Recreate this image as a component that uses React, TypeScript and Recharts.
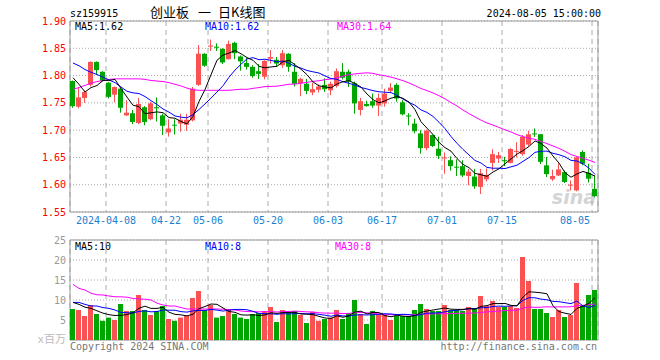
import React from 'react';
import { ComposedChart, Bar, Line, XAxis, YAxis, CartesianGrid, ReferenceArea } from 'recharts';

const opens = [1.790,1.743,1.759,1.783,1.825,1.807,1.787,1.765,1.776,1.727,
  1.731,1.713,1.742,1.720,1.742,1.727,1.696,1.710,1.712,1.710,
  1.718,1.783,1.840,1.853,1.853,1.849,1.830,1.860,1.835,1.823,
  1.816,1.808,1.798,1.831,1.829,1.819,1.840,1.807,1.786,1.785,
  1.769,1.774,1.783,1.773,1.781,1.807,1.807,1.786,1.737,1.748,
  1.753,1.745,1.749,1.772,1.783,1.751,1.727,1.712,1.694,1.667,
  1.691,1.666,1.649,1.645,1.633,1.634,1.616,1.615,1.596,1.610,
  1.640,1.648,1.645,1.640,1.661,1.656,1.6735,1.694,1.6925,1.6355,
  1.610,1.617,1.623,1.599,1.5895,1.660,1.622,1.5925];
const highs = [1.791,1.779,1.773,1.826,1.826,1.808,1.788,1.780,1.777,1.755,
  1.737,1.759,1.744,1.752,1.760,1.730,1.720,1.720,1.730,1.730,
  1.779,1.856,1.841,1.866,1.859,1.850,1.864,1.862,1.837,1.833,
  1.819,1.821,1.828,1.847,1.834,1.847,1.841,1.823,1.796,1.794,
  1.787,1.784,1.795,1.789,1.813,1.823,1.811,1.789,1.759,1.754,
  1.767,1.767,1.776,1.786,1.786,1.755,1.731,1.721,1.700,1.701,
  1.692,1.688,1.659,1.652,1.6465,1.645,1.629,1.629,1.629,1.630,
  1.665,1.660,1.651,1.667,1.678,1.691,1.699,1.703,1.693,1.651,
  1.6275,1.639,1.626,1.608,1.651,1.663,1.6385,1.617];
const lows = [1.741,1.740,1.750,1.780,1.801,1.789,1.758,1.751,1.732,1.726,
  1.711,1.711,1.709,1.718,1.716,1.691,1.688,1.692,1.697,1.699,
  1.716,1.781,1.816,1.845,1.845,1.821,1.829,1.830,1.809,1.811,
  1.796,1.794,1.793,1.822,1.816,1.814,1.807,1.780,1.762,1.766,
  1.764,1.769,1.770,1.764,1.778,1.793,1.779,1.730,1.727,1.743,
  1.741,1.726,1.743,1.770,1.752,1.727,1.709,1.694,1.657,1.663,
  1.669,1.647,1.620,1.626,1.616,1.614,1.599,1.5925,1.583,1.606,
  1.626,1.640,1.634,1.639,1.650,1.653,1.671,1.6876,1.638,1.614,
  1.607,1.616,1.603,1.5895,1.588,1.6355,1.604,1.577];
const closes = [1.744,1.760,1.770,1.825,1.810,1.790,1.761,1.779,1.741,1.732,
  1.715,1.748,1.715,1.749,1.740,1.708,1.703,1.709,1.719,1.719,
  1.776,1.840,1.818,1.855,1.851,1.824,1.858,1.841,1.826,1.816,
  1.799,1.803,1.827,1.834,1.822,1.841,1.816,1.785,1.794,1.772,
  1.775,1.780,1.775,1.785,1.808,1.796,1.789,1.749,1.753,1.744,
  1.745,1.759,1.767,1.778,1.758,1.729,1.725,1.698,1.667,1.699,
  1.671,1.653,1.650,1.634,1.632,1.617,1.624,1.597,1.621,1.618,
  1.656,1.654,1.643,1.6655,1.662,1.688,1.6925,1.693,1.642,1.6195,
  1.616,1.628,1.605,1.600,1.650,1.6385,1.611,1.579];
const volumes = [7.75,7.5,6.0,8.75,6.5,4.8,5.6,5.0,9.0,7.25,
  7.25,11.25,7.5,6.25,7.25,8.5,5.25,4.8,5.6,6.0,
  10.5,12.25,7.5,8.75,5.6,6.0,7.75,6.5,5.6,5.25,
  6.5,6.75,7.25,8.25,4.5,7.5,7.0,7.25,6.25,4.25,
  7.0,4.8,5.25,5.6,7.5,5.25,6.75,10.0,6.5,4.0,
  7.25,6.5,6.25,5.0,6.0,6.0,6.0,7.5,9.0,7.75,
  7.25,7.25,8.75,7.5,7.5,7.25,8.25,8.0,11.0,8.5,
  9.75,8.25,8.25,8.5,8.0,20.75,14.75,7.75,7.75,6.75,
  5.75,7.5,5.75,6.25,14.25,8.5,11.25,12.5];

const ma5Head = [1.796,1.784,1.770,1.778];
const ma10Head = [1.823,1.818,1.811,1.806,1.802,1.797,1.792,1.787,1.779];
const ma30Head = [1.775,1.778,1.782,1.786,1.789,1.791,1.793,1.794,1.794,1.794,
  1.794,1.794,1.793,1.791,1.790,1.789,1.787,1.784,1.781,1.777,
  1.774,1.773,1.773,1.773,1.773,1.773,1.773,1.774,1.775];
const vma5Head = [9.4,8.9,8.2,7.9];
const vma10Head = [9.4,9.4,8.9,8.5,8.5,8.1,7.9,7.5,6.9];
const vma30Head = [13.9,12.9,12.5,11.7,11.3,11.25,11.0,10.8,10.8,10.7,
  10.4,10.25,10.2,10.0,9.2,8.75,8.5,8.5,8.1,7.75,
  7.75,7.75,7.75,7.75,7.75,7.7,7.6,7.5,7.25];

const tickIdx = [6,16,23,33,43,52,62,72,87];
const tickLabels = ['2024-04-08','04-22','05-06','05-20','06-03','06-17','07-01','07-15','08-05'];
const priceTicks = [1.55,1.60,1.65,1.70,1.75,1.80,1.85,1.90];
const volTicks = [5,10,15,20,25];

const RED = '#fa5252';
const GREEN = '#00a600';
const MONO = "'DejaVu Sans Mono', 'Liberation Mono', monospace";
const CJK = "'Noto Sans CJK SC', sans-serif";

function movingAvg(src: number[], n: number, head: number[]) {
  return src.map((_, i) => {
    if (i < head.length) return head[i];
    let s = 0;
    for (let k = i - n + 1; k <= i; k++) s += src[k];
    return s / n;
  });
}

const ma5 = movingAvg(closes, 5, ma5Head);
const ma10 = movingAvg(closes, 10, ma10Head);
const ma30 = movingAvg(closes, 30, ma30Head);
const vma5 = movingAvg(volumes, 5, vma5Head);
const vma10 = movingAvg(volumes, 10, vma10Head);
const vma30 = movingAvg(volumes, 30, vma30Head);

const rows = opens.map((o, i) => ({
  x: i,
  open: o,
  high: highs[i],
  low: lows[i],
  close: closes[i],
  vol: volumes[i],
  ma5: ma5[i],
  ma10: ma10[i],
  ma30: ma30[i],
  vma5: vma5[i],
  vma10: vma10[i],
  vma30: vma30[i],
}));

const n = rows.length;
const xDomain: [number, number] = [-0.5, n - 0.5];
const xTicks = tickIdx.map((i) => i - 0.5);

const DateTick = (p: any) => {
  const { x, y, payload } = p;
  const k = xTicks.indexOf(payload.value);
  if (k < 0) return null;
  const last = k === xTicks.length - 1;
  return (
    <text
      x={last ? x - 2 : x}
      y={y + 5}
      dy="0.71em"
      textAnchor={last ? 'end' : 'middle'}
      fill="#1a80d0"
      fontSize={10}
      fontFamily={MONO}
    >
      {tickLabels[k]}
    </text>
  );
};

const Candle = (p: any) => {
  const { x, y, width, height, payload } = p;
  if (x == null || y == null) return null;
  const { open, close, high, low } = payload;
  const top = Math.min(y, y + height);
  const h = Math.abs(height);
  const span = high - low;
  const toY = (v: number) => (span > 0 ? top + ((high - v) / span) * h : top);
  const color = close >= open ? RED : GREEN;
  const left = Math.floor(x + width / 2 - 2.5);
  const cx = left + 2.5;
  const bTop = toY(Math.max(open, close));
  const bBot = toY(Math.min(open, close));
  const bh = Math.max(1, bBot - bTop);
  return (
    <g>
      <line x1={cx} x2={cx} y1={top} y2={top + h} stroke={color} strokeWidth={1} />
      <rect x={left} y={bTop} width={5} height={bh} fill={color} />
    </g>
  );
};

const VolBar = (p: any) => {
  const { x, y, width, height, payload } = p;
  if (x == null || y == null) return null;
  const color = payload.close >= payload.open ? RED : GREEN;
  const left = Math.floor(x + width / 2 - 2.5);
  return <rect x={left} y={Math.min(y, y + height)} width={5} height={Math.abs(height)} fill={color} />;
};

export default function App() {
  return (
    <div style={{ position: 'absolute', left: 0, top: 0, width: 660, height: 360, background: '#fff' }}>
      <svg width={660} height={360} style={{ position: 'absolute', left: 0, top: 0 }}>
        <text x={70} y={17} fontFamily={MONO} fontSize={10} fill="#000">sz159915</text>
        <text x={150} y={17} fontFamily={CJK} fontSize={13} fill="#000">创业板</text>
        <text x={198} y={17} fontFamily={CJK} fontSize={13} fill="#000">一</text>
        <text x={218} y={17} fontFamily={CJK} fontSize={13} fill="#000">日K线图</text>
        <text x={601} y={17} fontFamily={MONO} fontSize={10} fill="#000" textAnchor="end">2024-08-05 15:00:00</text>
        <text x={75} y={30} fontFamily={MONO} fontSize={10} fill="#000">MA5:1.62</text>
        <text x={205} y={30} fontFamily={MONO} fontSize={10} fill="#0000ff">MA10:1.62</text>
        <text x={337} y={30} fontFamily={MONO} fontSize={10} fill="#ff00ff">MA30:1.64</text>
        <text x={596} y={204} fontFamily="'DejaVu Sans', sans-serif" fontSize={19} fontWeight="bold" fontStyle="italic" fill="#d4d4d4" textAnchor="end">sina</text>
        <text x={75} y={250} fontFamily={MONO} fontSize={10} fill="#000">MA5:10</text>
        <text x={205} y={250} fontFamily={MONO} fontSize={10} fill="#0000ff">MA10:8</text>
        <text x={335} y={250} fontFamily={MONO} fontSize={10} fill="#ff00ff">MA30:8</text>
        <text x={66} y={343} fontFamily={MONO + ", 'Noto Sans CJK SC'"} fontSize={11} fill="#bbbbbb" textAnchor="end">x百万</text>
        <text x={70} y={350} fontFamily={MONO} fontSize={10} fill="#777">Copyright 2024 SINA.COM</text>
        <text x={597} y={350} fontFamily={MONO} fontSize={10} fill="#777" textAnchor="end">http://finance.sina.com.cn</text>
      </svg>

      <div style={{ position: 'absolute', left: 0, top: 0 }}>
        <ComposedChart width={660} height={240} data={rows} margin={{ top: 21, right: 62, bottom: 0, left: 0 }}>
          <CartesianGrid horizontal={true} vertical={false} stroke="#aaaaaa" strokeDasharray="1 2" />
          <CartesianGrid horizontal={false} vertical={true} stroke="#aaaaaa" strokeDasharray="5 4" />
          <XAxis
            type="number"
            dataKey="x"
            domain={xDomain}
            ticks={xTicks}
            interval={0}
            tickLine={false}
            axisLine={false}
            tickSize={0}
            tickMargin={0}
            height={28}
            tick={<DateTick />}
          />
          <YAxis
            type="number"
            domain={[1.55, 1.9]}
            ticks={priceTicks}
            interval={0}
            tickFormatter={(v: number) => v.toFixed(2)}
            tickLine={false}
            axisLine={false}
            tickSize={0}
            tickMargin={4}
            width={70}
            tick={{ fill: '#ff0000', fontSize: 10, fontFamily: MONO }}
          />
          <ReferenceArea x1={xDomain[0]} x2={xDomain[1]} y1={1.55} y2={1.9} stroke="#999" fill="#fff" fillOpacity={0} />
          <Line type="linear" dataKey="ma30" stroke="#ff00ff" strokeWidth={1} dot={false} isAnimationActive={false} />
          <Line type="linear" dataKey="ma10" stroke="#0000ff" strokeWidth={1} dot={false} isAnimationActive={false} />
          <Line type="linear" dataKey="ma5" stroke="#000000" strokeWidth={1} dot={false} isAnimationActive={false} />
          <Bar dataKey={(d: any) => [d.low, d.high]} barSize={5} shape={Candle} isAnimationActive={false} />
        </ComposedChart>
      </div>

      <div style={{ position: 'absolute', left: 0, top: 0 }}>
        <ComposedChart width={660} height={360} data={rows} margin={{ top: 240, right: 62, bottom: 20, left: 0 }}>
          <CartesianGrid horizontal={true} vertical={false} stroke="#aaaaaa" strokeDasharray="1 2" />
          <CartesianGrid horizontal={false} vertical={true} stroke="#aaaaaa" strokeDasharray="5 4" />
          <XAxis type="number" dataKey="x" domain={xDomain} ticks={xTicks} interval={0} hide height={0} />
          <YAxis
            type="number"
            domain={[0, 25]}
            ticks={volTicks}
            interval={0}
            tickLine={false}
            axisLine={false}
            tickSize={0}
            tickMargin={4}
            width={70}
            tick={{ fill: '#999999', fontSize: 10, fontFamily: MONO }}
          />
          <ReferenceArea x1={xDomain[0]} x2={xDomain[1]} y1={0} y2={25} stroke="#999" fill="#fff" fillOpacity={0} />
          <Bar dataKey="vol" barSize={5} shape={VolBar} isAnimationActive={false} />
          <Line type="linear" dataKey="vma30" stroke="#ff00ff" strokeWidth={1} dot={false} isAnimationActive={false} />
          <Line type="linear" dataKey="vma10" stroke="#0000ff" strokeWidth={1} dot={false} isAnimationActive={false} />
          <Line type="linear" dataKey="vma5" stroke="#000000" strokeWidth={1} dot={false} isAnimationActive={false} />
        </ComposedChart>
      </div>
    </div>
  );
}
